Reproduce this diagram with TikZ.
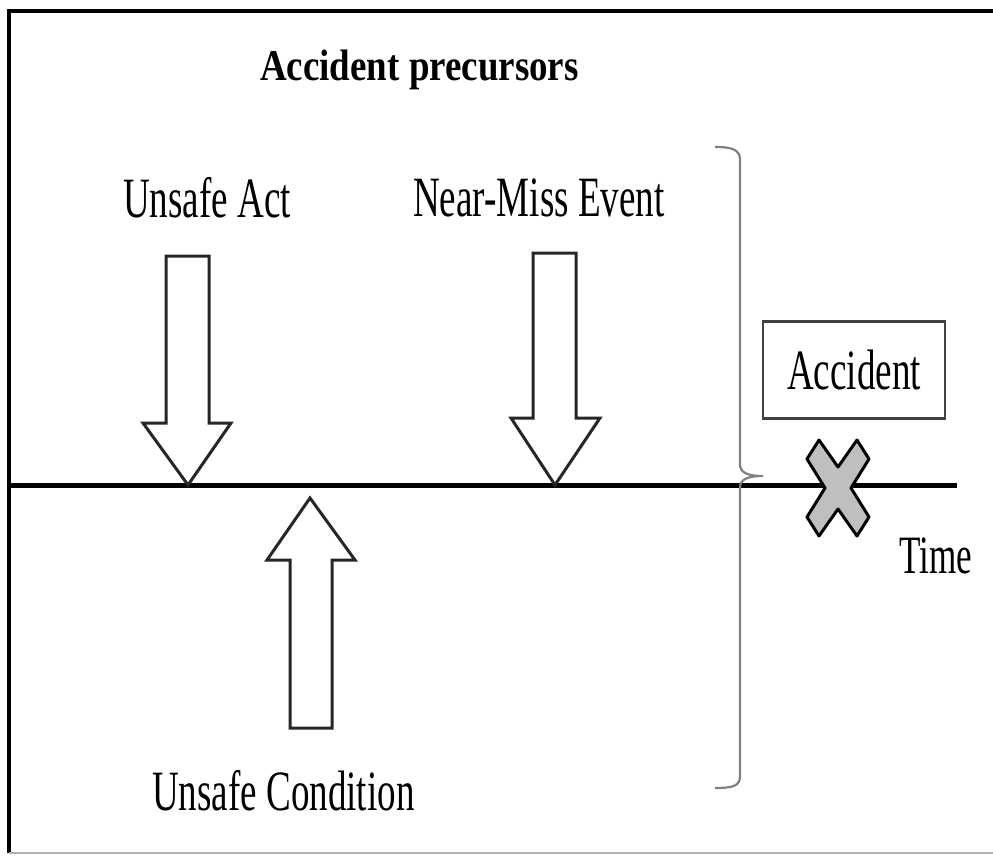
\documentclass[tikz,border=0pt]{standalone}
\usepackage{fontspec}
\setmainfont{Liberation Serif}
\newfontfamily\lblfont[FakeStretch=0.65]{Liberation Serif}
\newfontfamily\ttlfont[FakeStretch=0.84]{Liberation Serif}
\begin{document}
\begin{tikzpicture}[x=1pt,y=-1pt,
  frameline/.style={line width=3.5pt,black},
  axisline/.style={line width=5pt,black},
  blockarrow/.style={draw=black!85,line width=3pt,fill=white,line join=miter},
  bracket/.style={draw=black!50,line width=2.2pt},
  crossmark/.style={draw=black,line width=3pt,fill=black!25,line join=round},
  lbl/.style={inner sep=0pt,font=\lblfont\fontsize{57}{60}\selectfont},
  ttl/.style={inner sep=0pt,font=\ttlfont\bfseries\fontsize{44}{48}\selectfont},
  eventbox/.style={draw=black!75,line width=2.5pt,minimum width=182pt,minimum height=97pt,inner sep=0pt,
    font=\lblfont\fontsize{57}{60}\selectfont}]
\useasboundingbox (0,0) rectangle (993,856);

% outer frame
\draw[frameline] (993,11) -- (9,11) -- (9,853);
\draw[line width=2pt,black!30] (9,853) -- (993,853);

% title
\node[ttl,anchor=base west] (title) at (260,81) {Accident precursors};

% time axis
\coordinate (t0) at (8,485);
\coordinate (t1) at (957,485);
\draw[axisline] (t0) -- (t1);

% precursor arrows
\draw[blockarrow] (166,256) -- (209,256) -- (209,423) -- (231,423) -- (188,485)
  -- (143,423) -- (166,423) -- cycle;
\draw[blockarrow] (533,253) -- (576,253) -- (576,418) -- (600,418) -- (555,485)
  -- (511,418) -- (533,418) -- cycle;
\draw[blockarrow] (290,728) -- (332,728) -- (332,560) -- (355,560) -- (310,498)
  -- (267,560) -- (290,560) -- cycle;

% labels
\node[lbl,anchor=base west] (act) at (123,217) {Unsafe Act};
\node[lbl,anchor=base west] (nearmiss) at (413,216) {Near-Miss Event};
\node[lbl,anchor=base west] (cond) at (152,810) {Unsafe Condition};
\node[lbl,anchor=base west,font=\lblfont\fontsize{54}{58}\selectfont] (time) at (899,573) {Time};

% bracket grouping the precursors
\draw[bracket] (715,147) .. controls (733,147) and (740,150) .. (740,160)
  -- (740,464) .. controls (740,472) and (746,476) .. (763,476)
  .. controls (746,476) and (740,480) .. (740,488)
  -- (740,776) .. controls (740,786) and (733,788) .. (715,788);

% accident
\node[eventbox] (accident) at (854,370) {Accident};
\draw[crossmark] (838,488)
  ++(-31,-29) -- ++(12,-19) -- ++(19,27) -- ++(19,-27) -- ++(12,19)
  -- ++(-18,29) -- ++(18,29) -- ++(-12,19) -- ++(-19,-27) -- ++(-19,27)
  -- ++(-12,-19) -- ++(18,-29) -- cycle;
\end{tikzpicture}
\end{document}
